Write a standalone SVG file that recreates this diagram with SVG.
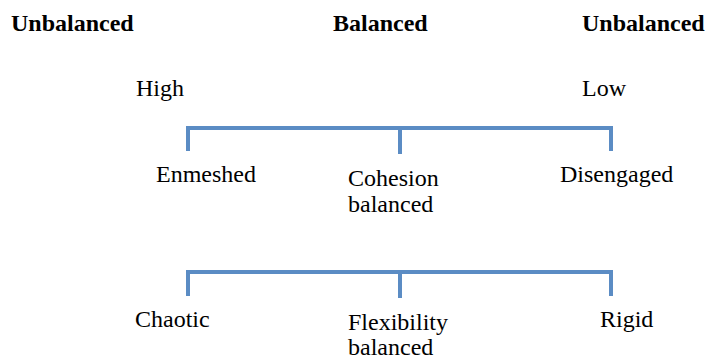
<svg xmlns="http://www.w3.org/2000/svg" width="707" height="361" viewBox="0 0 707 361">
<style>
text{font-family:"Liberation Serif","Times New Roman",serif;font-size:24px;fill:#000}
.b{font-weight:bold}
.br{fill:none;stroke:#5b8cc4;stroke-width:4;stroke-linecap:butt}
</style>
<rect width="707" height="361" fill="#fff"/>
<g id="headers">
<text class="b" x="11" y="31">Unbalanced</text>
<text class="b" x="333" y="31">Balanced</text>
<text class="b" x="582" y="31">Unbalanced</text>
</g>
<g id="high"><text x="136" y="96">High</text></g>
<g id="low"><text x="582" y="96">Low</text></g>
<g id="connectors">
<path class="br" d="M188 151V128H611V151M400 128V154"/>
<path class="br" d="M188 296V272H611V296M400 272V298"/>
</g>
<g id="enmeshed"><text x="156" y="182">Enmeshed</text></g>
<g id="cohesion"><text x="348" y="186">Cohesion</text><text x="348" y="212">balanced</text></g>
<g id="disengaged"><text x="560" y="182">Disengaged</text></g>
<g id="chaotic"><text x="135" y="327">Chaotic</text></g>
<g id="flexibility"><text x="348" y="330">Flexibility</text><text x="348" y="355">balanced</text></g>
<g id="rigid"><text x="600" y="327">Rigid</text></g>
</svg>
